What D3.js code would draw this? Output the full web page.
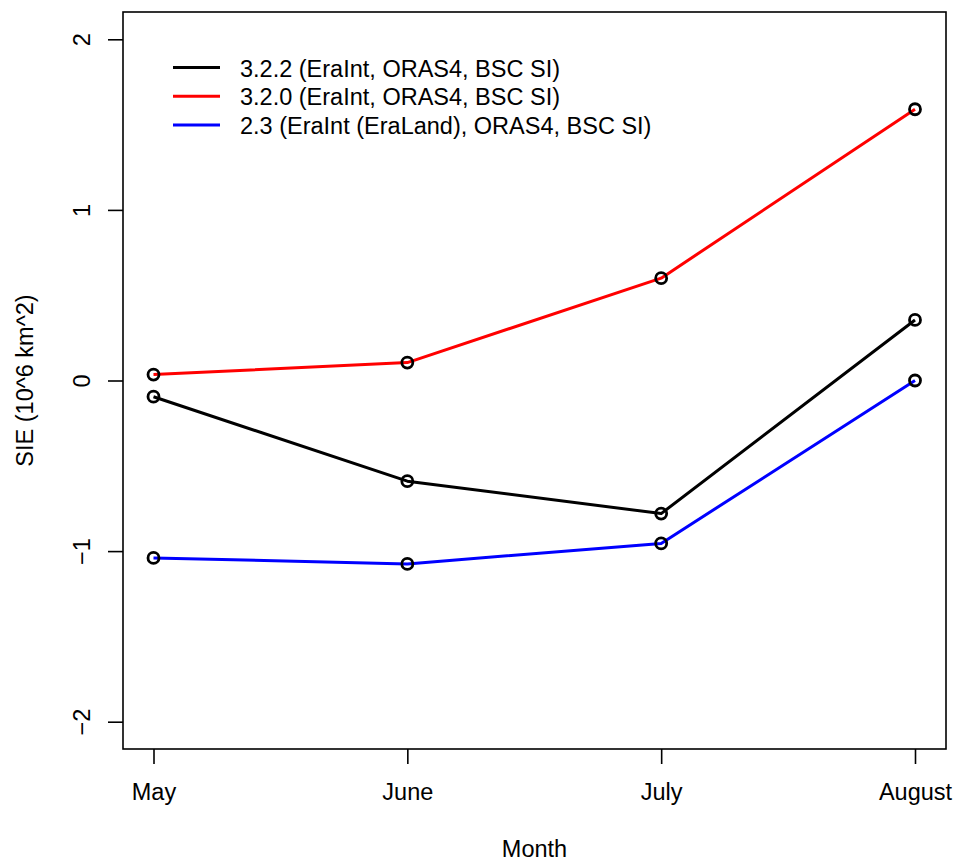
<!DOCTYPE html>
<html>
<head>
<meta charset="utf-8">
<script src="https://cdn.jsdelivr.net/npm/d3@7"></script>
<style>
  html, body { margin: 0; padding: 0; background: #fff; }
  svg text { font-family: "Liberation Sans", Arial, Helvetica, sans-serif; fill: #000; }
</style>
</head>
<body>
<svg id="chart" width="955" height="861"></svg>
<script>
// Months along the x axis
const months = ["May", "June", "July", "August"];

// Sea ice extent anomalies (10^6 km^2) per model version
const sie322 = [-0.095, -0.59, -0.78, 0.355];
const sie320 = [0.035, 0.105, 0.60, 1.59];
const sie23  = [-1.04, -1.075, -0.955, 0.0];

const seriesNames = [
  "3.2.2 (EraInt, ORAS4, BSC SI)",
  "3.2.0 (EraInt, ORAS4, BSC SI)",
  "2.3 (EraInt (EraLand), ORAS4, BSC SI)"
];
const seriesColors = ["#000000", "#ff0000", "#0000ff"];
const seriesValues = [sie322, sie320, sie23];

const yTicks = [-2, -1, 0, 1, 2];

const svg = d3.select("#chart");
const fontSize = "23.5px";
const lineW = 3;

// Plot region (box)
const box = { left: 123, right: 946, top: 12, bottom: 749 };

const x = d3.scalePoint().domain(months).range([153.5, 915]);
const y = d3.scaleLinear().domain([-2, 2]).range([721.7, 39.3]);

// Frame
svg.append("rect")
  .attr("x", box.left).attr("y", box.top)
  .attr("width", box.right - box.left).attr("height", box.bottom - box.top)
  .attr("fill", "none").attr("stroke", "#000").attr("stroke-width", 1.6);

// Y axis
const yAxis = svg.append("g")
  .attr("transform", `translate(${box.left},0)`)
  .call(d3.axisLeft(y).tickValues(yTicks).tickSize(15).tickSizeOuter(0)
    .tickFormat(d => d < 0 ? "\u2212" + Math.abs(d) : String(d)));
yAxis.select(".domain").remove();
yAxis.selectAll(".tick line").attr("stroke", "#000").attr("stroke-width", 1.6);
yAxis.selectAll(".tick text")
  .attr("x", 0).attr("dy", 0)
  .attr("transform", "translate(-33,0) rotate(-90)")
  .attr("text-anchor", "middle")
  .style("font-size", fontSize);

// X axis
const xAxis = svg.append("g")
  .attr("transform", `translate(0,${box.bottom})`)
  .call(d3.axisBottom(x).tickSize(15).tickSizeOuter(0));
xAxis.select(".domain").remove();
xAxis.selectAll(".tick line").attr("stroke", "#000").attr("stroke-width", 1.6);
xAxis.selectAll(".tick text")
  .attr("y", 51).attr("dy", 0)
  .style("font-size", fontSize);

// Axis titles
svg.append("text")
  .attr("x", (box.left + box.right) / 2).attr("y", 857)
  .attr("text-anchor", "middle").style("font-size", fontSize)
  .text("Month");

svg.append("text")
  .attr("transform", `translate(33,${(box.top + box.bottom) / 2}) rotate(-90)`)
  .attr("text-anchor", "middle").style("font-size", fontSize)
  .text("SIE (10^6 km^2)");

// Series lines and point markers
const line = d3.line()
  .x((d, i) => x(months[i]))
  .y(d => y(d));

seriesValues.forEach((vals, s) => {
  svg.append("path")
    .datum(vals)
    .attr("d", line)
    .attr("fill", "none")
    .attr("stroke", seriesColors[s])
    .attr("stroke-width", lineW)
    .attr("stroke-linejoin", "round");
});

seriesValues.forEach((vals) => {
  svg.append("g").selectAll("circle")
    .data(vals)
    .join("circle")
    .attr("cx", (d, i) => x(months[i]))
    .attr("cy", d => y(d))
    .attr("r", 5.5)
    .attr("fill", "none")
    .attr("stroke", "#000")
    .attr("stroke-width", 2.8);
});

// Legend
const legend = svg.append("g");
const legendRow = d3.scaleLinear().domain([0, 1]).range([67.5, 96.3]);
seriesNames.forEach((name, s) => {
  const yy = legendRow(s);
  legend.append("line")
    .attr("x1", 173).attr("x2", 220)
    .attr("y1", yy).attr("y2", yy)
    .attr("stroke", seriesColors[s]).attr("stroke-width", lineW);
  legend.append("text")
    .attr("x", 240).attr("y", yy + 9)
    .style("font-size", fontSize)
    .text(name);
});
</script>
</body>
</html>
